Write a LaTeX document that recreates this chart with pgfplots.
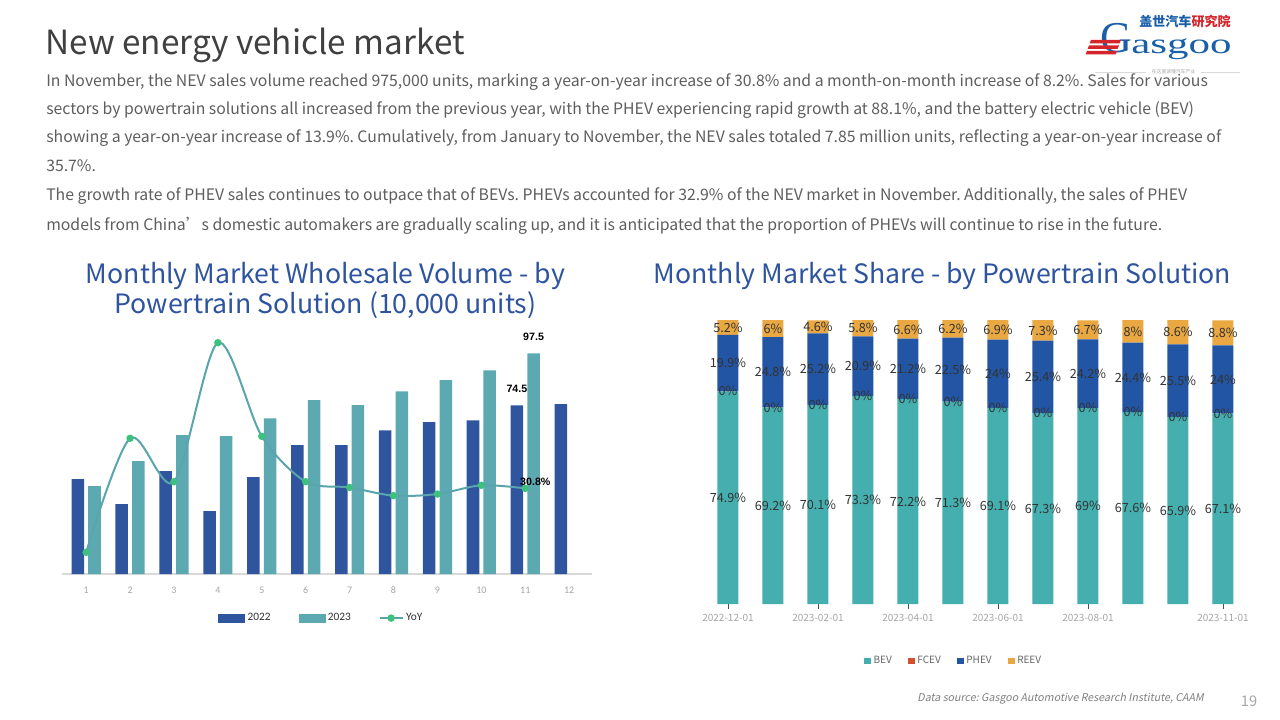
\documentclass[border=0pt]{standalone}
\usepackage{fontspec}
\usepackage{graphicx}
\usepackage{pgfplots}
\pgfplotsset{compat=1.18}
\setmainfont{Noto Sans CJK SC}
\newfontfamily\calfont{Carlito}
\newfontfamily\arialfont{Liberation Sans}
\newfontfamily\seriffont{Liberation Serif}
\newfontfamily\slantfont{Noto Sans CJK SC}[FakeSlant=0.2]
\definecolor{c22}{HTML}{2F559E}
\definecolor{c23}{HTML}{5DA9B1}
\definecolor{cyoy}{HTML}{5AA5AD}
\definecolor{cmark}{HTML}{3EC07F}
\definecolor{cbev}{HTML}{45AFAF}
\definecolor{cfcev}{HTML}{D4502C}
\definecolor{cphev}{HTML}{2255A4}
\definecolor{creev}{HTML}{E9A842}
\definecolor{ctitle}{HTML}{2E54A0}
\definecolor{cbody}{HTML}{5E5E5E}
\definecolor{chead}{HTML}{404040}
\definecolor{clogo}{HTML}{1A5FA8}
\definecolor{cred}{HTML}{D4252D}
\definecolor{ctick}{HTML}{A6A6A6}
\definecolor{cline}{HTML}{D9D9D9}
\definecolor{clab}{HTML}{333333}
\frenchspacing
\begin{document}
\begin{tikzpicture}[x=0.75pt,y=-0.75pt,
  lbl/.style={font=\fontsize{9.5}{10}\selectfont, text=clab, inner sep=0}]
\fill[white] (0,0) rectangle (1280,720);
% ---------- heading and text ----------
\node[anchor=base west, inner sep=0, text=chead, font=\fontsize{25}{28}\selectfont] at (45,55) {New energy vehicle market};
\begin{scope}[every node/.style={anchor=base west, inner sep=0, text=cbody, font=\fontsize{11.85}{14}\selectfont}]
\node at (46,87) {In November, the NEV sales volume reached 975,000 units, marking a year-on-year increase of 30.8\% and a month-on-month increase of 8.2\%. Sales for various};
\node at (46,115) {sectors by powertrain solutions all increased from the previous year, with the PHEV experiencing rapid growth at 88.1\%, and the battery electric vehicle (BEV)};
\node at (46,143) {showing a year-on-year increase of 13.9\%. Cumulatively, from January to November, the NEV sales totaled 7.85 million units, reflecting a year-on-year increase of};
\node at (46,172) {35.7\%.};
\node at (46,201) {The growth rate of PHEV sales continues to outpace that of BEVs. PHEVs accounted for 32.9\% of the NEV market in November. Additionally, the sales of PHEV};
\node at (46,230) {models from China’s domestic automakers are gradually scaling up, and it is anticipated that the proportion of PHEVs will continue to rise in the future.};
\end{scope}
% ---------- logo ----------
\node[anchor=base west, inner sep=0, text=clogo, font=\seriffont\fontsize{33}{33}\selectfont] at (1100,53) {G};
\node[anchor=base west, inner sep=0, text=clogo] at (1131,54) {\scalebox{1.5}[1]{\seriffont\fontsize{21.5}{21.5}\selectfont asgoo}};
\fill[cred] (1091,40) -- (1121,40) -- (1119.5,43.5) -- (1089.5,43.5) -- cycle;
\fill[cred] (1089,45.5) -- (1119,45.5) -- (1117.5,49) -- (1087.5,49) -- cycle;
\fill[cred] (1087,51) -- (1117,51) -- (1115.5,54.5) -- (1085.5,54.5) -- cycle;
\node[anchor=base west, inner sep=0, font=\bfseries\fontsize{9.8}{10}\selectfont] at (1139,27) {\textcolor{clogo}{盖世汽车}\textcolor{cred}{研究院}};
\draw[cline, line width=0.5pt] (1095,72) -- (1146,72);
\draw[cline, line width=0.5pt] (1201,72) -- (1240,72);
\node[inner sep=0, text=ctick, font=\fontsize{3.6}{4}\selectfont] at (1173.5,72) {在这里读懂汽车产业};
% ---------- chart titles ----------
\node[anchor=base, inner sep=0, text=ctitle, font=\fontsize{20}{24}\selectfont] at (325.5,283.5) {Monthly Market Wholesale Volume - by};
\node[anchor=base, inner sep=0, text=ctitle, font=\fontsize{20}{24}\selectfont] at (325.5,313) {Powertrain Solution (10,000 units)};
\node[anchor=base, inner sep=0, text=ctitle, font=\fontsize{20}{24}\selectfont] at (942.5,283.5) {Monthly Market Share - by Powertrain Solution};
% ---------- footer ----------
\node[anchor=base east, inner sep=0, text=gray, font=\slantfont\fontsize{8}{10}\selectfont] at (1204,701) {Data source: Gasgoo Automotive Research Institute, CAAM};
\node[anchor=base, inner sep=0, text=ctick, font=\fontsize{11}{12}\selectfont] at (1249,706) {19};

% ---------- left chart: bars ----------
\begin{axis}[at={(46.5pt,-430.5pt)}, anchor=south west, scale only axis,
  width=397.5pt, height=186.75pt,
  xmin=0.45, xmax=12.52, ymin=0, ymax=110,
  axis line style={draw=none}, ytick=\empty,
  xtick={1,...,12}, major tick length=0pt, xtick style={draw=none},
  /pgf/number format/assume math mode=true,
  xticklabel style={font=\calfont\fontsize{7.5}{9}\selectfont, text=ctick, yshift=-6pt},
  clip=false,
  legend style={draw=none, fill=none, at={(0.49,-0.177)}, anchor=center,
    legend columns=3, font=\calfont\fontsize{8.5}{10}\selectfont, text=clab,
    /tikz/every even column/.append style={column sep=19pt}},
  ]
\draw[cline, line width=0.8pt] (rel axis cs:0,0) -- (rel axis cs:1,0);
\addlegendimage{legend image code/.code={\fill[c22] (0pt,-3pt) rectangle (19.5pt,3pt);}}
\addlegendentry{2022}
\addlegendimage{legend image code/.code={\fill[c23] (0pt,-3pt) rectangle (19.5pt,3pt);}}
\addlegendentry{2023}
\addlegendimage{cyoy, line width=1.5pt, mark=*, mark size=2pt, mark options={fill=cmark, draw=cmark}}
\addlegendentry{YoY}
\addplot[ybar, fill=c22, draw=none, bar width=9.4pt, bar shift=-6.26pt, forget plot] coordinates {
 (1,41.9) (2,30.9) (3,45.4) (4,27.8) (5,42.8) (6,56.9) (7,56.9) (8,63.5) (9,67.1) (10,67.9) (11,74.5) (12,75.0)};
\addplot[ybar, fill=c23, draw=none, bar width=9.4pt, bar shift=6.26pt, forget plot] coordinates {
 (1,38.8) (2,49.9) (3,61.3) (4,60.9) (5,68.8) (6,76.8) (7,74.6) (8,80.7) (9,85.6) (10,90.0) (11,97.5)};
\node[font=\arialfont\bfseries\fontsize{8}{9}\selectfont, inner sep=0, xshift=6.26pt, yshift=12pt] at (axis cs:11,97.5) {97.5};
\node[font=\arialfont\bfseries\fontsize{8}{9}\selectfont, inner sep=0, xshift=-6.26pt, yshift=12pt] at (axis cs:11,74.5) {74.5};
\end{axis}
% ---------- left chart: YoY ----------
\begin{axis}[at={(46.5pt,-430.5pt)}, anchor=south west, scale only axis,
  width=397.5pt, height=186.75pt,
  xmin=0.45, xmax=12.52, ymin=-17.14, ymax=122.2,
  hide axis, clip=false]
\addplot[cyoy, line width=1.5pt, smooth, tension=0.5, mark=*, mark size=2pt, mark options={fill=cmark, draw=cmark}] coordinates {
 (1,-5.0) (2,58.8) (3,34.5) (4,112.3) (5,59.9) (6,34.5) (7,31.3) (8,26.7) (9,27.6) (10,32.5) (11,30.8)};
\node[anchor=base west, inner sep=0, xshift=-4pt, yshift=2pt, font=\arialfont\bfseries\fontsize{8}{9}\selectfont] at (axis cs:11,30.8) {30.8\%};
\end{axis}

% ---------- right chart ----------
\begin{axis}[at={(529.1pt,-453pt)}, anchor=south west, scale only axis,
  width=405pt, height=213pt,
  xmin=-0.5, xmax=11.5, ymin=0, ymax=100,
  ybar stacked, bar width=15.75pt,
  axis line style={draw=none}, ytick=\empty,
  xtick={0,2,4,6,8,11},
  xticklabels={2022-12-01,2023-02-01,2023-04-01,2023-06-01,2023-08-01,2023-11-01},
  xtick pos=left, tick align=outside, major tick length=4pt,
  xtick style={draw=black!70, line width=0.7pt},
  xticklabel style={font=\fontsize{7.5}{9}\selectfont, text=ctick},
  clip=false,
  legend image code/.code={\fill[#1] (0pt,-2.6pt) rectangle (5.2pt,2.6pt);},
  legend style={draw=none, fill=none, at={(0.46,-0.2007)}, anchor=center,
    legend columns=4, font=\fontsize{7.5}{9}\selectfont, text=black!60,
    /tikz/every even column/.append style={column sep=10pt}},
  ]
\addplot[fill=cbev, draw=none] coordinates {
 (0,74.9) (1,69.2) (2,70.1) (3,73.3) (4,72.2) (5,71.3) (6,69.1) (7,67.3) (8,69) (9,67.6) (10,65.9) (11,67.1)};
\addlegendentry{BEV}
\addplot[fill=cfcev, draw=none] coordinates {
 (0,0) (1,0) (2,0) (3,0) (4,0) (5,0) (6,0) (7,0) (8,0) (9,0) (10,0) (11,0)};
\addlegendentry{FCEV}
\addplot[fill=cphev, draw=none] coordinates {
 (0,19.9) (1,24.8) (2,25.2) (3,20.9) (4,21.2) (5,22.5) (6,24) (7,25.4) (8,24.2) (9,24.4) (10,25.5) (11,24)};
\addlegendentry{PHEV}
\addplot[fill=creev, draw=none] coordinates {
 (0,5.2) (1,6) (2,4.6) (3,5.8) (4,6.6) (5,6.2) (6,6.9) (7,7.3) (8,6.7) (9,8) (10,8.6) (11,8.8)};
\addlegendentry{REEV}
\end{axis}
% ---------- right chart: data labels (overlay) ----------
\begin{axis}[at={(529.1pt,-453pt)}, anchor=south west, scale only axis,
  width=405pt, height=213pt,
  xmin=-0.5, xmax=11.5, ymin=0, ymax=100, hide axis, clip=false]
% BEV labels
\node[lbl] at (axis cs:0,37.45) {74.9\%};
\node[lbl] at (axis cs:1,34.6) {69.2\%};
\node[lbl] at (axis cs:2,35.05) {70.1\%};
\node[lbl] at (axis cs:3,36.65) {73.3\%};
\node[lbl] at (axis cs:4,36.1) {72.2\%};
\node[lbl] at (axis cs:5,35.65) {71.3\%};
\node[lbl] at (axis cs:6,34.55) {69.1\%};
\node[lbl] at (axis cs:7,33.65) {67.3\%};
\node[lbl] at (axis cs:8,34.5) {69\%};
\node[lbl] at (axis cs:9,33.8) {67.6\%};
\node[lbl] at (axis cs:10,32.95) {65.9\%};
\node[lbl] at (axis cs:11,33.55) {67.1\%};
% FCEV labels
\node[lbl] at (axis cs:0,74.9) {0\%};
\node[lbl] at (axis cs:1,69.2) {0\%};
\node[lbl] at (axis cs:2,70.1) {0\%};
\node[lbl] at (axis cs:3,73.3) {0\%};
\node[lbl] at (axis cs:4,72.2) {0\%};
\node[lbl] at (axis cs:5,71.3) {0\%};
\node[lbl] at (axis cs:6,69.1) {0\%};
\node[lbl] at (axis cs:7,67.3) {0\%};
\node[lbl] at (axis cs:8,69) {0\%};
\node[lbl] at (axis cs:9,67.6) {0\%};
\node[lbl] at (axis cs:10,65.9) {0\%};
\node[lbl] at (axis cs:11,67.1) {0\%};
% PHEV labels
\node[lbl] at (axis cs:0,84.85) {19.9\%};
\node[lbl] at (axis cs:1,81.6) {24.8\%};
\node[lbl] at (axis cs:2,82.7) {25.2\%};
\node[lbl] at (axis cs:3,83.75) {20.9\%};
\node[lbl] at (axis cs:4,82.8) {21.2\%};
\node[lbl] at (axis cs:5,82.55) {22.5\%};
\node[lbl] at (axis cs:6,81.1) {24\%};
\node[lbl] at (axis cs:7,80.0) {25.4\%};
\node[lbl] at (axis cs:8,81.1) {24.2\%};
\node[lbl] at (axis cs:9,79.8) {24.4\%};
\node[lbl] at (axis cs:10,78.65) {25.5\%};
\node[lbl] at (axis cs:11,79.1) {24\%};
% REEV labels
\node[lbl] at (axis cs:0,97.4) {5.2\%};
\node[lbl] at (axis cs:1,97) {6\%};
\node[lbl] at (axis cs:2,97.6) {4.6\%};
\node[lbl] at (axis cs:3,97.1) {5.8\%};
\node[lbl] at (axis cs:4,96.7) {6.6\%};
\node[lbl] at (axis cs:5,96.9) {6.2\%};
\node[lbl] at (axis cs:6,96.55) {6.9\%};
\node[lbl] at (axis cs:7,96.35) {7.3\%};
\node[lbl] at (axis cs:8,96.55) {6.7\%};
\node[lbl] at (axis cs:9,96) {8\%};
\node[lbl] at (axis cs:10,95.7) {8.6\%};
\node[lbl] at (axis cs:11,95.5) {8.8\%};
\end{axis}
\end{tikzpicture}
\end{document}
